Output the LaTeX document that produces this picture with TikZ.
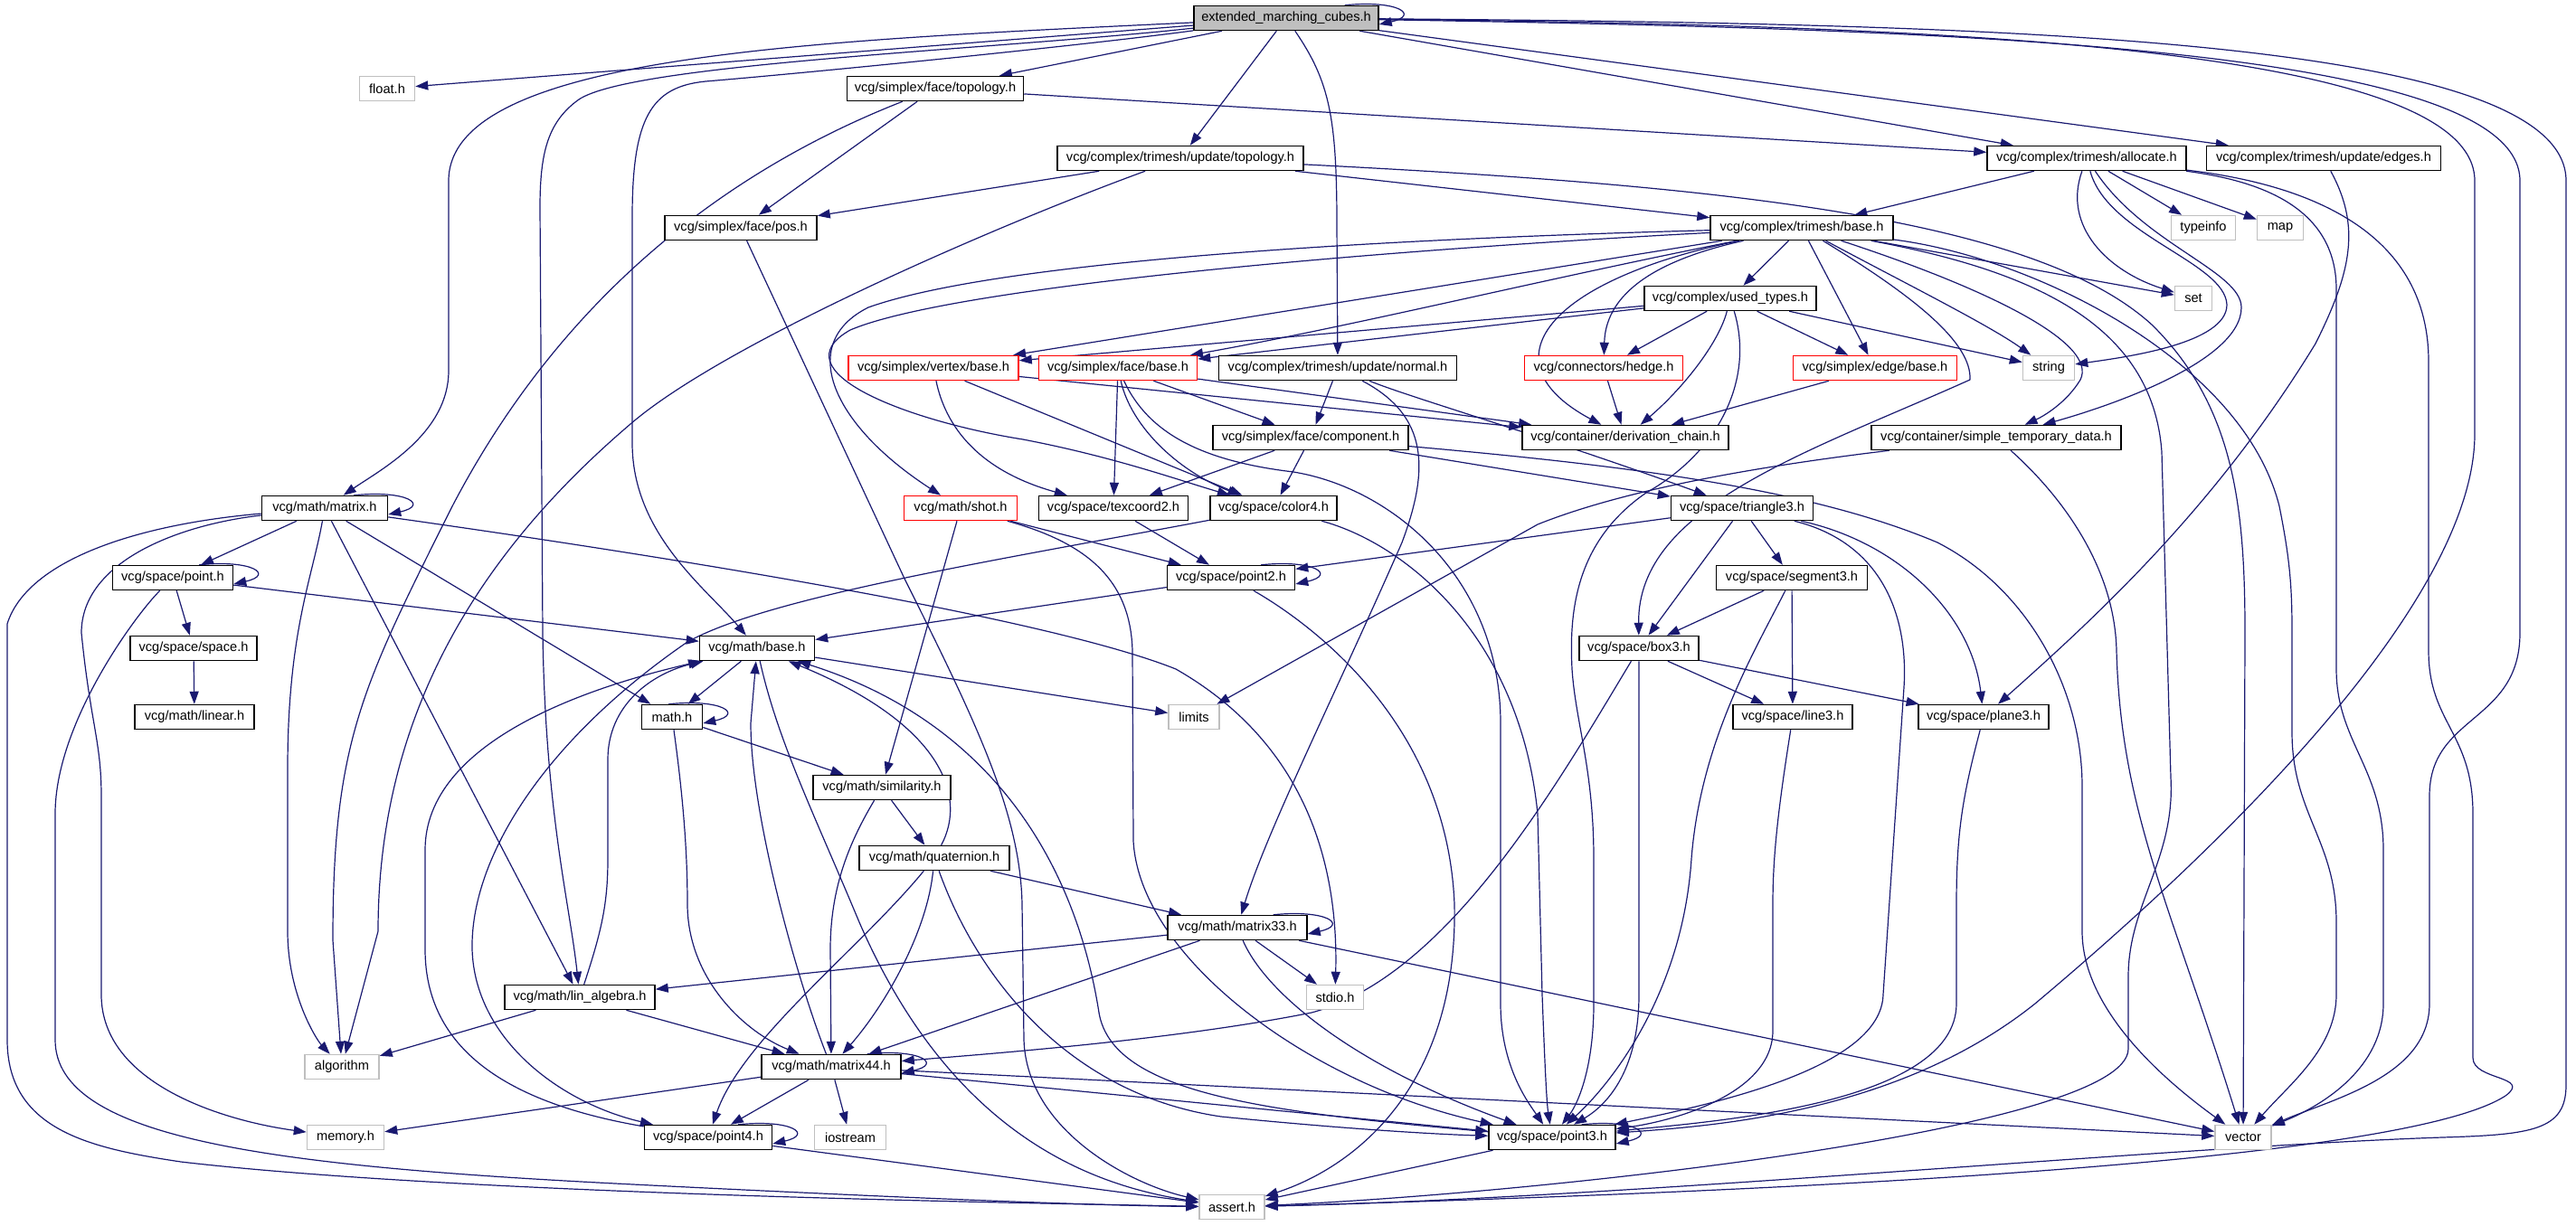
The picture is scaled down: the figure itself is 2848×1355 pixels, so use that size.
\documentclass[tikz,border=0pt]{standalone}
\usepackage{fontspec}
\setmainfont{Liberation Sans}
\usetikzlibrary{arrows.meta}
\definecolor{depblue}{RGB}{25,25,112}
\definecolor{grey75}{RGB}{191,191,191}
\pgfdeclarelayer{bg}
\pgfsetlayers{bg,main}
\tikzset{
  hdr/.style={draw=black, line width=1.5pt, fill=white, inner xsep=3pt, inner ysep=0pt,
    minimum height=27pt, font=\fontsize{14.6}{16}\selectfont},
  syshdr/.style={hdr, draw=grey75},
  cuthdr/.style={hdr, draw=red},
  roothdr/.style={hdr, fill=grey75},
  dep/.style={draw=depblue, line width=1.2pt, line join=round, -{Triangle[length=14pt,width=10pt]}},
}
\begin{document}
\begin{tikzpicture}[x=1pt, y=-1pt]
  \useasboundingbox (0,0) rectangle (2848,1355);

  \node[roothdr, minimum width=204pt] (emc) at (1422,20) {extended\_marching\_cubes.h};
  \node[syshdr, minimum width=61pt] (float) at (428,98) {float.h};
  \node[hdr, minimum width=195pt] (ftopo) at (1034,98) {vcg/simplex/face/topology.h};
  \node[hdr, minimum width=272pt] (utopo) at (1305,175) {vcg/complex/trimesh/update/topology.h};
  \node[hdr, minimum width=220pt] (alloc) at (2307,175) {vcg/complex/trimesh/allocate.h};
  \node[hdr, minimum width=259pt] (uedges) at (2569,175) {vcg/complex/trimesh/update/edges.h};
  \node[hdr, minimum width=168pt] (fpos) at (819,252) {vcg/simplex/face/pos.h};
  \node[hdr, minimum width=202pt] (tbase) at (1992,252) {vcg/complex/trimesh/base.h};
  \node[syshdr, minimum width=71pt] (typeinfo) at (2436,252) {typeinfo};
  \node[syshdr, minimum width=51pt] (map) at (2521,252) {map};
  \node[hdr, minimum width=190pt] (usedtypes) at (1913,330) {vcg/complex/used\_types.h};
  \node[syshdr, minimum width=41pt] (set) at (2425,330) {set};
  \node[cuthdr, minimum width=188pt] (vbase) at (1032,407) {vcg/simplex/vertex/base.h};
  \node[cuthdr, minimum width=175pt] (fbase) at (1236,407) {vcg/simplex/face/base.h};
  \node[hdr, minimum width=263pt] (unormal) at (1479,407) {vcg/complex/trimesh/update/normal.h};
  \node[cuthdr, minimum width=175pt] (hedge) at (1773,407) {vcg/connectors/hedge.h};
  \node[cuthdr, minimum width=181pt] (ebase) at (2073,407) {vcg/simplex/edge/base.h};
  \node[syshdr, minimum width=57pt] (string) at (2265,407) {string};
  \node[hdr, minimum width=216pt] (fcomp) at (1449,484) {vcg/simplex/face/component.h};
  \node[hdr, minimum width=228pt] (dchain) at (1797,484) {vcg/container/derivation\_chain.h};
  \node[hdr, minimum width=276pt] (stdata) at (2207,484) {vcg/container/simple\_temporary\_data.h};
  \node[hdr, minimum width=139pt] (matrix) at (359,562) {vcg/math/matrix.h};
  \node[cuthdr, minimum width=125pt] (shot) at (1062,562) {vcg/math/shot.h};
  \node[hdr, minimum width=165pt] (tex2) at (1231,562) {vcg/space/texcoord2.h};
  \node[hdr, minimum width=140pt] (color4) at (1408,562) {vcg/space/color4.h};
  \node[hdr, minimum width=157pt] (tri3) at (1926,562) {vcg/space/triangle3.h};
  \node[hdr, minimum width=133pt] (point) at (191,639) {vcg/space/point.h};
  \node[hdr, minimum width=141pt] (point2) at (1361,639) {vcg/space/point2.h};
  \node[hdr, minimum width=167pt] (seg3) at (1981,639) {vcg/space/segment3.h};
  \node[hdr, minimum width=140pt] (space) at (214,717) {vcg/space/space.h};
  \node[hdr, minimum width=127pt] (mbase) at (837,717) {vcg/math/base.h};
  \node[hdr, minimum width=132pt] (box3) at (1812,717) {vcg/space/box3.h};
  \node[hdr, minimum width=132pt] (linear) at (215,793) {vcg/math/linear.h};
  \node[hdr, minimum width=67pt] (mathh) at (743,793) {math.h};
  \node[syshdr, minimum width=56pt] (limits) at (1320,793) {limits};
  \node[hdr, minimum width=132pt] (line3) at (1982,793) {vcg/space/line3.h};
  \node[hdr, minimum width=144pt] (plane3) at (2193,793) {vcg/space/plane3.h};
  \node[hdr, minimum width=152pt] (simil) at (975,871) {vcg/math/similarity.h};
  \node[hdr, minimum width=166pt] (quat) at (1033,949) {vcg/math/quaternion.h};
  \node[hdr, minimum width=154pt] (m33) at (1368,1026) {vcg/math/matrix33.h};
  \node[hdr, minimum width=166pt] (linalg) at (641,1103) {vcg/math/lin\_algebra.h};
  \node[syshdr, minimum width=63pt] (stdio) at (1476,1103) {stdio.h};
  \node[syshdr, minimum width=82pt] (algorithm) at (378,1180) {algorithm};
  \node[hdr, minimum width=154pt] (m44) at (919,1180) {vcg/math/matrix44.h};
  \node[syshdr, minimum width=85pt] (memory) at (382,1258) {memory.h};
  \node[hdr, minimum width=141pt] (point4) at (783,1258) {vcg/space/point4.h};
  \node[syshdr, minimum width=79pt] (iostream) at (940,1258) {iostream};
  \node[hdr, minimum width=140pt] (point3) at (1716,1258) {vcg/space/point3.h};
  \node[syshdr, minimum width=62pt] (vector) at (2480,1258) {vector};
  \node[syshdr, minimum width=72pt] (assert) at (1362,1335) {assert.h};

  \begin{pgfonlayer}{bg}
  % extended_marching_cubes.h
  \draw[dep] (emc) -- (float);
  \draw[dep] (emc) .. controls (900,45) and (496,60) .. (496,200) -- (496,410) .. controls (496,480) and (420,520) .. (matrix);
  \draw[dep] (emc) .. controls (1100,55) and (700,70) .. (640,110) .. controls (605,135) and (597,170) .. (597,230) -- (600,700) .. controls (603,900) and (630,1000) .. (linalg);
  \draw[dep] (emc) .. controls (1200,50) and (900,80) .. (780,90) .. controls (720,96) and (699,130) .. (699,240) -- (699,490) .. controls (699,590) and (780,650) .. (mbase);
  \draw[dep] (emc) -- (ftopo);
  \draw[dep] (emc) -- (utopo);
  \draw[dep] (emc) .. controls (1470,90) and (1478,130) .. (1478,250) -- (unormal);
  \draw[dep] (emc) -- (alloc);
  \draw[dep] (emc) -- (uedges);
  \draw[dep] (emc) .. controls (2100,28) and (2736,45) .. (2736,200) -- (2736,480) .. controls (2736,650) and (2500,900) .. (2250,1110) .. controls (2100,1230) and (1900,1245) .. (point3);
  \draw[dep] (emc) .. controls (2150,32) and (2786,50) .. (2786,200) -- (2786,700) .. controls (2786,800) and (2686,790) .. (2686,880) -- (2686,1110) .. controls (2686,1190) and (2580,1215) .. (vector);
  \draw[dep] (emc) .. controls (2200,26) and (2837,40) .. (2837,200) -- (2837,1200) .. controls (2837,1250) and (2800,1255) .. (2700,1258) .. controls (2400,1268) and (1800,1325) .. (assert);
  % face/topology.h, update/topology.h
  \draw[dep] (ftopo) -- (alloc);
  \draw[dep] (ftopo) -- (fpos);
  \draw[dep] (ftopo) .. controls (800,190) and (620,330) .. (500,560) .. controls (400,760) and (368,820) .. (368,1040) -- (algorithm);
  \draw[dep] (utopo) -- (fpos);
  \draw[dep] (utopo) -- (tbase);
  \draw[dep] (utopo) .. controls (1100,250) and (800,380) .. (697,469) .. controls (520,620) and (418,800) .. (418,1030) -- (algorithm);
  \draw[dep] (utopo) .. controls (1900,205) and (2250,240) .. (2380,360) .. controls (2470,450) and (2482,560) .. (2482,700) -- (vector);
  % allocate.h, update/edges.h
  \draw[dep] (alloc) -- (tbase);
  \draw[dep] (alloc) -- (typeinfo);
  \draw[dep] (alloc) -- (map);
  \draw[dep] (alloc) .. controls (2280,250) and (2330,300) .. (set);
  \draw[dep] (alloc) .. controls (2330,260) and (2460,290) .. (2462,337) .. controls (2462,380) and (2350,395) .. (string);
  \draw[dep] (alloc) .. controls (2370,270) and (2478,300) .. (2478,340) .. controls (2478,400) and (2330,450) .. (stdata);
  \draw[dep] (alloc) .. controls (2500,200) and (2583,230) .. (2583,320) -- (2583,740) .. controls (2583,820) and (2635,850) .. (2635,940) -- (2635,1110) .. controls (2635,1180) and (2570,1222) .. (vector);
  \draw[dep] (alloc) .. controls (2560,205) and (2685,260) .. (2685,400) -- (2685,720) .. controls (2685,800) and (2734,810) .. (2734,900) -- (2734,1170) .. controls (2734,1195) and (2800,1190) .. (2770,1212) .. controls (2650,1290) and (1900,1320) .. (assert);
  \draw[dep] (uedges) .. controls (2610,250) and (2600,300) .. (2560,380) .. controls (2450,560) and (2320,680) .. (plane3);
  % trimesh/base.h
  \draw[dep] (tbase) -- (usedtypes);
  \draw[dep] (tbase) -- (vbase);
  \draw[dep] (tbase) .. controls (1700,310) and (1500,360) .. (fbase);
  \draw[dep] (tbase) .. controls (1500,265) and (1100,290) .. (960,340) .. controls (880,380) and (920,470) .. (shot);
  \draw[dep] (tbase) .. controls (1500,278) and (1050,318) .. (940,365) .. controls (860,410) and (1000,465) .. (1131,486) .. controls (1230,505) and (1300,530) .. (color4);
  \draw[dep] (tbase) .. controls (1820,290) and (1775,330) .. (hedge);
  \draw[dep] (tbase) .. controls (1710,310) and (1640,400) .. (dchain);
  \draw[dep] (tbase) -- (ebase);
  \draw[dep] (tbase) .. controls (2100,310) and (2200,360) .. (string);
  \draw[dep] (tbase) -- (set);
  \draw[dep] (tbase) .. controls (2200,320) and (2320,380) .. (2300,420) .. controls (2285,445) and (2260,460) .. (stdata);
  \draw[dep] (tbase) .. controls (2120,330) and (2180,380) .. (2178,420) .. controls (2000,500) and (1810,560) .. (box3);
  \draw[dep] (tbase) .. controls (2250,285) and (2480,400) .. (2520,560) .. controls (2532,620) and (2534,650) .. (2534,700) -- (2534,810) .. controls (2534,900) and (2583,930) .. (2583,1020) -- (2583,1100) .. controls (2583,1160) and (2530,1200) .. (vector);
  \draw[dep] (tbase) .. controls (2250,300) and (2380,360) .. (2390,500) -- (2400,860) .. controls (2405,950) and (2353,1000) .. (2353,1080) -- (2353,1160) .. controls (2353,1250) and (1700,1320) .. (assert);
  % used_types.h
  \draw[dep] (usedtypes) -- (vbase);
  \draw[dep] (usedtypes) -- (fbase);
  \draw[dep] (usedtypes) -- (hedge);
  \draw[dep] (usedtypes) -- (ebase);
  \draw[dep] (usedtypes) -- (string);
  \draw[dep] (usedtypes) .. controls (1900,380) and (1860,430) .. (dchain);
  \draw[dep] (usedtypes) .. controls (1940,420) and (1900,500) .. (1820,545) .. controls (1740,600) and (1735,680) .. (1738,740) .. controls (1742,800) and (1762,850) .. (1762,950) -- (1762,1110) .. controls (1762,1180) and (1745,1220) .. (point3);
  % simplex bases, normal.h
  \draw[dep] (vbase) -- (dchain);
  \draw[dep] (vbase) .. controls (1045,470) and (1080,520) .. (tex2);
  \draw[dep] (vbase) -- (color4);
  \draw[dep] (fbase) -- (dchain);
  \draw[dep] (fbase) -- (fcomp);
  \draw[dep] (fbase) -- (tex2);
  \draw[dep] (fbase) .. controls (1250,470) and (1300,520) .. (color4);
  \draw[dep] (fbase) .. controls (1270,480) and (1330,510) .. (1430,522) .. controls (1540,540) and (1659,640) .. (1659,800) -- (1659,1110) .. controls (1659,1180) and (1690,1220) .. (point3);
  \draw[dep] (unormal) -- (fcomp);
  \draw[dep] (unormal) .. controls (1560,440) and (1700,480) .. (tri3);
  \draw[dep] (unormal) .. controls (1580,460) and (1580,520) .. (1550,600) .. controls (1480,760) and (1400,920) .. (m33);
  \draw[dep] (hedge) -- (dchain);
  \draw[dep] (ebase) -- (dchain);
  \draw[dep] (fcomp) -- (tex2);
  \draw[dep] (fcomp) -- (color4);
  \draw[dep] (fcomp) -- (tri3);
  \draw[dep] (fcomp) .. controls (1800,515) and (2000,540) .. (2142,600) .. controls (2240,650) and (2302,760) .. (2302,870) -- (2302,1030) .. controls (2302,1120) and (2400,1200) .. (vector);
  \draw[dep] (stdata) .. controls (1950,515) and (1800,540) .. (1700,580) -- (limits);
  \draw[dep] (stdata) .. controls (2270,540) and (2338,620) .. (2340,720) .. controls (2345,900) and (2400,1000) .. (vector);
  % math
  \draw[dep] (matrix) -- (point);
  \draw[dep] (matrix) .. controls (345,640) and (318,700) .. (318,850) -- (318,1030) .. controls (318,1100) and (350,1150) .. (algorithm);
  \draw[dep] (matrix) -- (linalg);
  \draw[dep] (matrix) -- (mathh);
  \draw[dep] (matrix) .. controls (700,610) and (1150,680) .. (1300,740) .. controls (1440,820) and (1480,950) .. (stdio);
  \draw[dep] (matrix) .. controls (200,580) and (90,620) .. (90,700) .. controls (100,800) and (112,820) .. (112,880) -- (112,1100) .. controls (112,1200) and (250,1240) .. (memory);
  \draw[dep] (matrix) .. controls (150,580) and (30,620) .. (8,690) -- (8,1150) .. controls (8,1250) and (100,1270) .. (200,1285) .. controls (500,1320) and (1100,1330) .. (assert);
  \draw[dep] (point) -- (space);
  \draw[dep] (point) -- (mbase);
  \draw[dep] (point) .. controls (150,680) and (61,800) .. (61,900) -- (61,1150) .. controls (61,1260) and (300,1290) .. (700,1310) .. controls (1000,1325) and (1200,1333) .. (assert);
  \draw[dep] (space) -- (linear);
  \draw[dep] (fpos) -- (1000,640) .. controls (1080,800) and (1128,900) .. (1130,1000) -- (1132,1150) .. controls (1135,1250) and (1250,1310) .. (assert);
  \draw[dep] (mbase) -- (mathh);
  \draw[dep] (mbase) -- (limits);
  \draw[dep] (mbase) .. controls (860,820) and (900,900) .. (950,1020) .. controls (1050,1250) and (1200,1310) .. (assert);
  \draw[dep] (mathh) -- (simil);
  \draw[dep] (mathh) .. controls (755,880) and (760,940) .. (760,1000) .. controls (760,1080) and (820,1140) .. (m44);
  \draw[dep] (simil) -- (quat);
  \draw[dep] (simil) .. controls (940,930) and (918,980) .. (918,1050) -- (m44);
  \draw[dep] (quat) .. controls (1070,880) and (1040,800) .. (mbase);
  \draw[dep] (quat) -- (m33);
  \draw[dep] (quat) .. controls (1025,1030) and (980,1110) .. (m44);
  \draw[dep] (quat) .. controls (950,1050) and (820,1150) .. (point4);
  \draw[dep] (quat) .. controls (1080,1080) and (1180,1210) .. (1350,1235) .. controls (1500,1250) and (1600,1255) .. (point3);
  \draw[dep] (m33) -- (linalg);
  \draw[dep] (m33) -- (m44);
  \draw[dep] (m33) -- (stdio);
  \draw[dep] (m33) .. controls (1400,1100) and (1500,1180) .. (point3);
  \draw[dep] (m33) -- (vector);
  \draw[dep] (linalg) .. controls (665,1030) and (672,1000) .. (672,950) -- (672,840) .. controls (672,780) and (720,745) .. (mbase);
  \draw[dep] (linalg) -- (algorithm);
  \draw[dep] (linalg) -- (m44);
  \draw[dep] (m44) .. controls (880,1080) and (830,900) .. (830,800) -- (mbase);
  \draw[dep] (m44) -- (memory);
  \draw[dep] (m44) -- (point4);
  \draw[dep] (m44) -- (iostream);
  \draw[dep] (m44) -- (point3);
  \draw[dep] (m44) -- (vector);
  \draw[dep] (point4) .. controls (560,1220) and (470,1160) .. (470,1050) -- (470,940) .. controls (470,820) and (650,760) .. (mbase);
  \draw[dep] (point4) -- (assert);
  \draw[dep] (point3) .. controls (1400,1230) and (1230,1210) .. (1215,1120) .. controls (1190,960) and (1100,800) .. (mbase);
  \draw[dep] (point3) -- (assert);
  % space
  \draw[dep] (point2) -- (mbase);
  \draw[dep] (point2) .. controls (1450,690) and (1600,800) .. (1608,1000) .. controls (1612,1200) and (1500,1290) .. (assert);
  \draw[dep] (tex2) -- (point2);
  \draw[dep] (shot) -- (point2);
  \draw[dep] (shot) -- (simil);
  \draw[dep] (shot) .. controls (1200,600) and (1250,640) .. (1252,720) -- (1253,930) .. controls (1260,1060) and (1450,1200) .. (point3);
  \draw[dep] (color4) .. controls (1100,620) and (850,660) .. (760,710) .. controls (600,820) and (520,950) .. (522,1050) .. controls (525,1150) and (620,1220) .. (point4);
  \draw[dep] (color4) .. controls (1550,600) and (1680,700) .. (1700,900) -- (1705,1100) .. controls (1708,1180) and (1710,1220) .. (point3);
  \draw[dep] (tri3) -- (point2);
  \draw[dep] (tri3) -- (seg3);
  \draw[dep] (tri3) -- (box3);
  \draw[dep] (tri3) .. controls (2100,600) and (2180,680) .. (plane3);
  \draw[dep] (tri3) .. controls (2080,600) and (2110,680) .. (2105,760) -- (2082,1100) .. controls (2080,1180) and (1900,1220) .. (point3);
  \draw[dep] (seg3) -- (box3);
  \draw[dep] (seg3) -- (line3);
  \draw[dep] (seg3) .. controls (1940,720) and (1880,820) .. (1870,950) .. controls (1860,1100) and (1780,1200) .. (point3);
  \draw[dep] (box3) -- (line3);
  \draw[dep] (box3) -- (plane3);
  \draw[dep] (box3) -- (1812,1100) .. controls (1812,1180) and (1780,1220) .. (point3);
  \draw[dep] (box3) .. controls (1720,870) and (1600,1080) .. (1450,1120) .. controls (1300,1150) and (1100,1165) .. (m44);
  \draw[dep] (line3) .. controls (1965,900) and (1960,950) .. (1960,1000) -- (1960,1140) .. controls (1960,1210) and (1850,1240) .. (point3);
  \draw[dep] (plane3) .. controls (2170,880) and (2163,920) .. (2163,1000) -- (2163,1110) .. controls (2163,1220) and (1900,1240) .. (point3);
  % self includes
  \foreach \n in {emc,matrix,point,point2,mathh,m33,m44,point4,point3}
    \draw[dep] ([xshift=-38pt]\n.north east) .. controls +(60,-6) and +(45,-10) .. ([yshift=-7pt]\n.east);
  \end{pgfonlayer}
\end{tikzpicture}
\end{document}
